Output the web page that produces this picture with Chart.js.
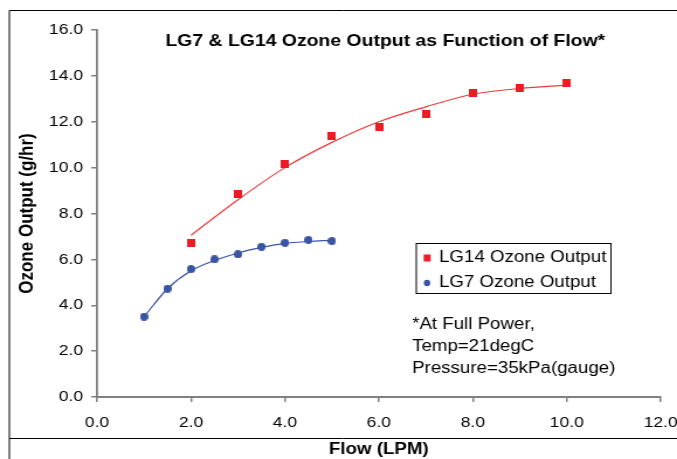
<!DOCTYPE html>
<html>
<head>
<meta charset="utf-8">
<script src="https://cdn.jsdelivr.net/npm/chart.js@4/dist/chart.umd.min.js"></script>
<style>
  html, body { margin: 0; padding: 0; background: #fff; overflow: hidden; }
  /* Vorlage ist horizontal gestreckt: intern 579px breit, angezeigt 677px */
  #wrap { width: 579px; height: 459px; transform: scaleX(1.1693); transform-origin: 0 0; }
</style>
</head>
<body>
<div id="wrap"><canvas id="myChart" width="579" height="459"></canvas></div>
<script>
// Werte
const flowLG14 = [2, 3, 4, 5, 6, 7, 8, 9, 10];
const ozoneLG14 = [6.7, 8.85, 10.15, 11.4, 11.75, 12.35, 13.25, 13.45, 13.7];
const trendLG14 = [7.05, 8.6, 10.0, 11.1, 12.0, 12.65, 13.2, 13.45, 13.6];

const flowLG7 = [1, 1.5, 2, 2.5, 3, 3.5, 4, 4.5, 5];
const ozoneLG7 = [3.5, 4.72, 5.58, 6.0, 6.22, 6.55, 6.72, 6.85, 6.8];
const trendLG7 = [3.5, 4.72, 5.5, 5.95, 6.28, 6.52, 6.7, 6.78, 6.83];

const xTicks = [0, 2, 4, 6, 8, 10, 12];
const yTicks = [0, 2, 4, 6, 8, 10, 12, 14, 16];

const chartTitle = 'LG7 & LG14 Ozone Output as Function of Flow*';
const noteLines = ['*At Full Power,', 'Temp=21degC', 'Pressure=35kPa(gauge)'];

const RED = '#ED1C24';
const BLUE = '#3A54A4';
const FONT = 'Arial, "Liberation Sans", sans-serif';
const SX = 1.1693; // horizontale Streckung

const pts = (xs, ys) => xs.map((x, i) => ({ x: x, y: ys[i] }));

// Marker vorab schmaler zeichnen, damit sie nach dem Strecken quadratisch/rund sind
function makeMarker(kind, color, size) {
  const w = Math.round(size / SX), h = size;
  const cv = document.createElement('canvas');
  cv.width = w; cv.height = h;
  const c = cv.getContext('2d');
  c.fillStyle = color;
  if (kind === 'rect') {
    c.fillRect(0, 0, w, h);
  } else {
    c.beginPath();
    c.ellipse(w / 2, h / 2, w / 2, h / 2, 0, 0, Math.PI * 2);
    c.fill();
  }
  return cv;
}
const redSquare = makeMarker('rect', RED, 8);
const blueDot = makeMarker('circle', BLUE, 8);

// Rahmen, Titel, Legende und Hinweis zeichnen
const decorPlugin = {
  id: 'decor',
  beforeDraw(chart) {
    const c = chart.ctx;
    c.save();
    c.strokeStyle = '#000';
    c.lineWidth = 1;
    c.beginPath();
    c.moveTo(8, 459); c.lineTo(8, 10.5); c.lineTo(579, 10.5);
    c.moveTo(8, 438.5); c.lineTo(579, 438.5);
    c.stroke();
    c.restore();
  },
  afterDraw(chart) {
    const c = chart.ctx;
    c.save();
    c.fillStyle = '#000';
    c.textBaseline = 'middle';
    c.font = 'bold 16.6px ' + FONT;
    c.textAlign = 'center';
    c.fillText(chartTitle, 329.5, 41);

    // Legende
    c.textAlign = 'left';
    c.strokeStyle = '#000';
    c.lineWidth = 1;
    c.strokeRect(356, 243.5, 166.5, 50);
    c.font = '16px ' + FONT;
    chart.data.datasets.filter(d => !d.trend).forEach((d, i) => {
      const y = 258 + i * 25;
      c.fillStyle = d.backgroundColor;
      if (d.marker === 'rect') {
        c.fillRect(362.3, y - 3.5, 6, 7);
      } else {
        c.beginPath(); c.ellipse(365.2, y, 2.75, 3.2, 0, 0, Math.PI * 2); c.fill();
      }
      c.fillStyle = '#000';
      c.fillText(d.label, 375.4, y);
    });

    noteLines.forEach((t, i) => c.fillText(t, 352.4, 325 + i * 22));
    c.restore();
  }
};

const ctx = document.getElementById('myChart').getContext('2d');
const myChart = new Chart(ctx, {
  type: 'scatter',
  data: {
    datasets: [
      {
        label: 'LG14 Ozone Output',
        marker: 'rect',
        data: pts(flowLG14, ozoneLG14),
        backgroundColor: RED,
        borderColor: RED,
        pointStyle: redSquare,
        order: 1
      },
      {
        label: 'LG7 Ozone Output',
        marker: 'circle',
        data: pts(flowLG7, ozoneLG7),
        backgroundColor: BLUE,
        borderColor: BLUE,
        pointStyle: blueDot,
        order: 1
      },
      {
        label: 'trend LG14',
        trend: true,
        data: pts(flowLG14, trendLG14),
        showLine: true,
        borderColor: '#EF3B3B',
        borderWidth: 1.2,
        pointRadius: 0,
        cubicInterpolationMode: 'monotone',
        order: 2
      },
      {
        label: 'trend LG7',
        trend: true,
        data: pts(flowLG7, trendLG7),
        showLine: true,
        borderColor: BLUE,
        borderWidth: 1.2,
        pointRadius: 0,
        cubicInterpolationMode: 'monotone',
        order: 2
      }
    ]
  },
  options: {
    responsive: false,
    animation: false,
    devicePixelRatio: 1,
    layout: { padding: { left: 7, top: 30, right: 14, bottom: 0 } },
    plugins: {
      legend: { display: false },
      tooltip: { enabled: false }
    },
    scales: {
      x: {
        type: 'linear',
        min: 0, max: 12,
        afterFit: s => { s.height = 62; s.paddingLeft = 0; s.paddingRight = 0; },
        afterBuildTicks: s => { s.ticks = xTicks.map(v => ({ value: v })); },
        ticks: {
          color: '#000',
          font: { family: FONT, size: 15 },
          padding: 12,
          maxRotation: 0,
          callback: v => v.toFixed(1)
        },
        grid: { drawOnChartArea: false, tickLength: 5, color: '#808080', lineWidth: 1.5 },
        border: { color: '#808080', width: 2 },
        title: {
          display: true,
          text: 'Flow (LPM)',
          color: '#000',
          font: { family: FONT, size: 16, weight: 'bold' },
          padding: { top: 0, bottom: 0 }
        }
      },
      y: {
        type: 'linear',
        min: 0, max: 16,
        afterFit: s => { s.width = 76; s.paddingTop = 0; s.paddingBottom = 0; },
        afterBuildTicks: s => { s.ticks = yTicks.map(v => ({ value: v })); },
        ticks: {
          color: '#000',
          font: { family: FONT, size: 15 },
          padding: 7,
          callback: v => v.toFixed(1)
        },
        grid: { drawOnChartArea: false, tickLength: 5, color: '#808080', lineWidth: 1.5 },
        border: { color: '#808080', width: 1.8 },
        title: {
          display: true,
          text: 'Ozone Output (g/hr)',
          color: '#000',
          font: { family: FONT, size: 17, weight: 'bold' },
          padding: { top: 6, bottom: 0 }
        }
      }
    }
  },
  plugins: [decorPlugin]
});
</script>
</body>
</html>
